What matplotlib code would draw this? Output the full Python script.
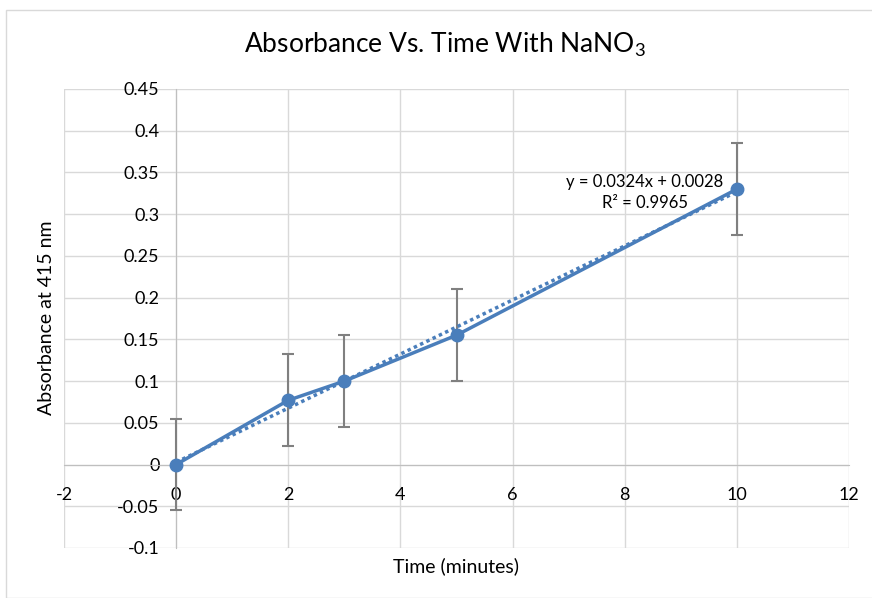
import matplotlib
matplotlib.use("Agg")
import matplotlib.pyplot as plt
import numpy as np
from matplotlib.patches import Rectangle

plt.rcParams['font.family'] = ['Lato', 'DejaVu Sans']
plt.rcParams['mathtext.fontset'] = 'custom'
plt.rcParams['mathtext.rm'] = 'Lato'
plt.rcParams['axes.unicode_minus'] = False

time_min = [0, 2, 3, 5, 10]
absorbance = [0.0, 0.077, 0.1, 0.155, 0.33]
err = [0.055, 0.055, 0.055, 0.055, 0.055]
slope = 0.0324
intercept = 0.0028
x_ticks = [-2, 0, 2, 4, 6, 8, 10, 12]
y_ticks = [-0.1, -0.05, 0, 0.05, 0.1, 0.15, 0.2, 0.25, 0.3, 0.35, 0.4, 0.45]
y_tick_labels = ['-0.1', '-0.05', '0', '0.05', '0.1', '0.15', '0.2', '0.25', '0.3', '0.35', '0.4', '0.45']

blue = '#4a7ebb'
fig = plt.figure(figsize=(8.72, 5.98), dpi=100)
fig.patches.append(Rectangle((6/872, 0), 1, 1 - 10/598, transform=fig.transFigure,
                             fill=False, edgecolor='#d9d9d9', lw=1))
ax = fig.add_axes([64/872, 1-548/598, (849-64)/872, (548-89)/598])
ax.set_xlim(-2, 12)
ax.set_ylim(-0.1, 0.45)
ax.set_xticks(x_ticks)
ax.set_yticks(y_ticks)
ax.set_yticklabels(y_tick_labels)
ax.grid(True, color='#d9d9d9', lw=1)
ax.set_axisbelow(True)
for s in ['top', 'right']:
    ax.spines[s].set_visible(False)
ax.spines['left'].set_position(('data', 0))
ax.spines['bottom'].set_position(('data', 0))
ax.spines['left'].set_color('#bfbfbf')
ax.spines['bottom'].set_color('#bfbfbf')
ax.tick_params(length=0, labelsize=13, colors='#000000')
ax.tick_params(axis='y', pad=12)
ax.tick_params(axis='x', pad=16)

ax.errorbar(time_min, absorbance, yerr=err, fmt='none', ecolor='#808080', elinewidth=1.5,
            capsize=4.5, capthick=1.5, zorder=3)
ax.plot(time_min, absorbance, color=blue, lw=2.5, marker='o', markersize=9, zorder=4)
xt = np.array([min(time_min), max(time_min)])
ax.plot(xt, slope*xt + intercept, color=blue, lw=2.5, ls=(0, (1, 1)), zorder=4)

ax.text(8.36, 0.3385, 'y = 0.0324x + 0.0028', ha='center', va='center', fontsize=12)
ax.text(8.36, 0.313, 'R² = 0.9965', ha='center', va='center', fontsize=12)

fig.text(445/872, 1-45/598, r'Absorbance Vs. Time With NaNO$_{\mathrm{3}}$', ha='center', va='center', fontsize=19)
fig.text(456/872, 1-566/598, 'Time (minutes)', ha='center', va='center', fontsize=14)
fig.text(47/872, 1-318/598, 'Absorbance at 415 nm', ha='center', va='center', fontsize=14, rotation=90)

fig.savefig('out.png', dpi=100)
